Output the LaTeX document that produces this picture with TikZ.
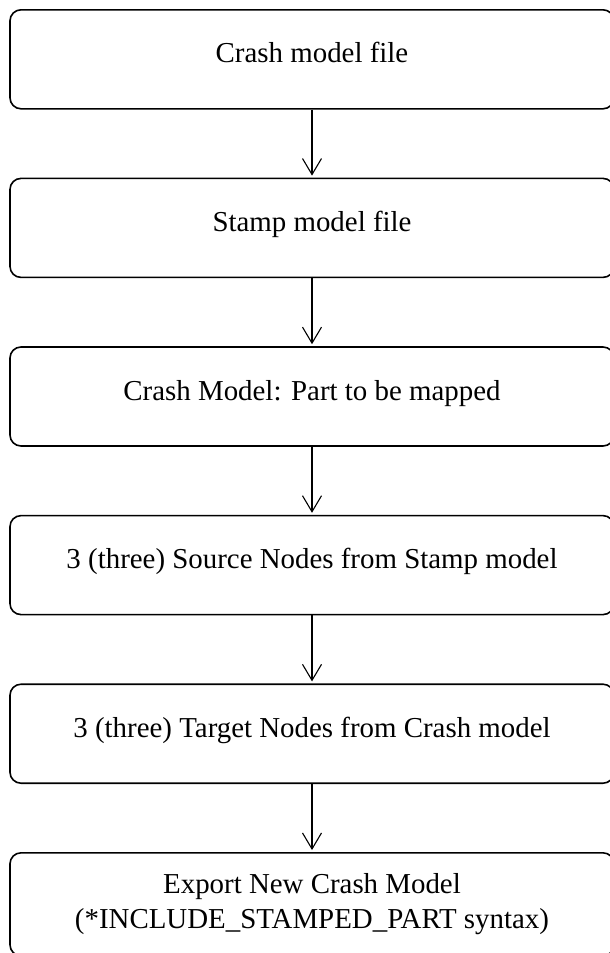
\documentclass[tikz,border=0pt]{standalone}
\usepackage{fontspec}
\setmainfont{Liberation Serif}
\usetikzlibrary{positioning,arrows.meta}
\tikzset{
  flowbox/.style   = {shape=rectangle, rounded corners=11bp,
                      draw, line width=1.6bp, align=center,
                      minimum width=604bp, minimum height=99bp,
                      font=\fontsize{29}{35}\selectfont},
  stepbox/.style   = {flowbox, text height=20bp, text depth=13bp},
  lastbox/.style   = {flowbox, minimum height=103bp},
  flowarrow/.style = {draw, line width=1.1bp, shorten >=2bp,
                      -{Straight Barb[length=16bp,width=19bp]}},
}

\begin{document}
\begin{tikzpicture}
  [
    x             = 1bp,
    y             = -1bp,
    node distance = 68bp
  ]
  \clip (0,0) rectangle (610,953);
  \node [stepbox, anchor=north] (crash) at (312,9) {Crash model file};
  \node [stepbox, below=of crash]  (stamp)  {Stamp model file};
  \node [stepbox, below=of stamp]  (part)   {Crash Model: Part to be mapped};
  \node [stepbox, below=of part]   (source) {3 (three) Source Nodes from Stamp model};
  \node [stepbox, below=of source] (target) {3 (three) Target Nodes from Crash model};
  \node [lastbox, below=of target] (export)
    {Export New Crash Model\\(*INCLUDE\_STAMPED\_PART syntax)};
  \foreach \a/\b in {crash/stamp, stamp/part, part/source, source/target, target/export}
    \draw [flowarrow] (\a) -- (\b);
\end{tikzpicture}
\end{document}
